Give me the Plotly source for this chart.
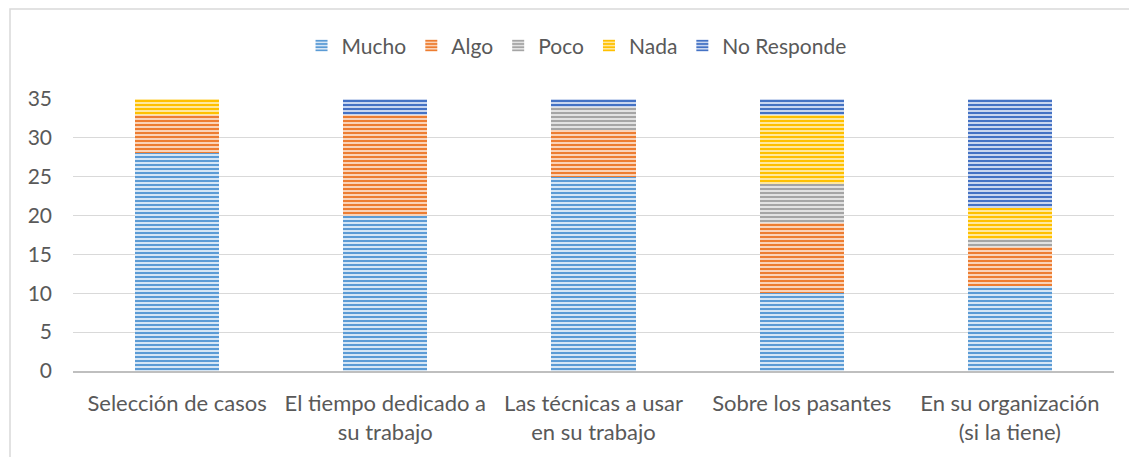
import plotly.graph_objects as go

categories = ["Selección de casos", "El tiempo dedicado a<br>su trabajo", "Las técnicas a usar<br>en su trabajo",
              "Sobre los pasantes", "En su organización<br>(si la tiene)"]
mucho = [28, 20, 25, 10, 11]
algo = [5, 13, 6, 9, 5]
poco = [0, 0, 3, 5, 1]
nada = [2, 0, 0, 9, 4]
no_responde = [0, 2, 1, 2, 14]
y_ticks = [0, 5, 10, 15, 20, 25, 30, 35]

series = [
    ("Mucho", mucho, "#5B9BD5", "#D6E6F5"),
    ("Algo", algo, "#ED7D31", "#FAD3B8"),
    ("Poco", poco, "#A5A5A5", "#E2E2E2"),
    ("Nada", nada, "#FFC000", "#FFE89E"),
    ("No Responde", no_responde, "#4472C4", "#C9D6EF"),
]

fig = go.Figure()
for name, vals, fg, bg in series:
    fig.add_trace(go.Bar(
        name=name, x=categories, y=vals,
        marker=dict(color=bg, line=dict(width=0),
                    pattern=dict(shape="-", fgcolor=fg, bgcolor=bg, size=4, solidity=0.5, fillmode="replace")),
    ))

font_color = "#595959"
fs = 21
fig.update_layout(
    barmode="stack",
    bargap=0.596,
    width=1137, height=457,
    margin=dict(l=65, r=31, t=91, b=94, autoexpand=False),
    paper_bgcolor="white", plot_bgcolor="white",
    font=dict(family="Lato, Open Sans, sans-serif", size=fs, color=font_color),
    legend=dict(orientation="h", x=0.4837, xanchor="center", yref="container", y=0.917, yanchor="middle",
                font=dict(size=fs, color=font_color), traceorder="normal", itemwidth=30,
                bgcolor="rgba(0,0,0,0)"),
    xaxis=dict(showgrid=False, showline=True, linecolor="#BFBFBF", linewidth=2, ticks="",
               automargin=False, ticklabelstandoff=12, tickfont=dict(size=22, color=font_color)),
    yaxis=dict(range=[0, 35], tickvals=y_ticks, showgrid=True, gridcolor="#D9D9D9", gridwidth=1,
               zeroline=False, showline=False, ticks="", ticklabelstandoff=20, automargin=False,
               tickfont=dict(size=fs, color=font_color)),
    shapes=[dict(type="rect", xref="paper", yref="paper",
                 x0=-63 / 1041, x1=1.1, y0=-0.6, y1=1 + 90 / 272,
                 line=dict(color="#D9D9D9", width=1.5), fillcolor="rgba(0,0,0,0)", layer="below")],
)

fig.write_html("out.html")
